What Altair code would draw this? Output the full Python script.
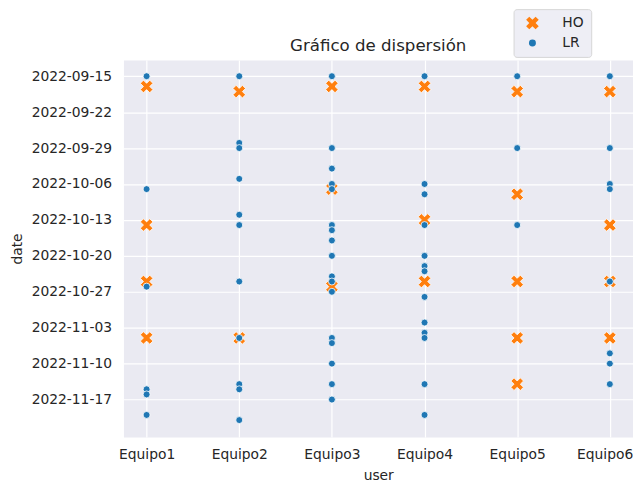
import altair as alt
import pandas as pd

USERS = ["Equipo1", "Equipo2", "Equipo3", "Equipo4", "Equipo5", "Equipo6"]
SERIES = ["HO", "LR"]
COLORS = ["#ff7f0e", "#1f77b4"]

# dates (month-day, year 2022)
HO_DATES = {
    "Equipo1": ["09-17", "10-14", "10-25", "11-05"],
    "Equipo2": ["09-18", "11-05"],
    "Equipo3": ["09-17", "10-07", "10-26"],
    "Equipo4": ["09-17", "10-13", "10-25"],
    "Equipo5": ["09-18", "10-08", "10-25", "11-05", "11-14"],
    "Equipo6": ["09-18", "10-14", "10-25", "11-05"],
}
LR_DATES = {
    "Equipo1": ["09-15", "10-07", "10-26", "11-15", "11-16", "11-20"],
    "Equipo2": ["09-15", "09-28", "09-29", "10-05", "10-12", "10-14", "10-25",
                "11-05", "11-14", "11-15", "11-21"],
    "Equipo3": ["09-15", "09-29", "10-03", "10-06", "10-07", "10-14", "10-15",
                "10-17", "10-20", "10-24", "10-25", "10-27", "11-05", "11-06",
                "11-10", "11-14", "11-17"],
    "Equipo4": ["09-15", "10-06", "10-08", "10-14", "10-20", "10-22", "10-23",
                "10-28", "11-02", "11-04", "11-05", "11-14", "11-20"],
    "Equipo5": ["09-15", "09-29", "10-14"],
    "Equipo6": ["09-15", "09-29", "10-06", "10-07", "10-25", "11-08", "11-10",
                "11-14"],
}
TICK_DATES = [(9, 15), (9, 22), (9, 29), (10, 6), (10, 13), (10, 20),
              (10, 27), (11, 3), (11, 10), (11, 17)]

rows = []
for serie, src in (("HO", HO_DATES), ("LR", LR_DATES)):
    for u in USERS:
        for d in src[u]:
            rows.append({"user": u, "date": f"2022-{d}T00:00:00", "serie": serie})
df = pd.DataFrame(rows)

MONTHS = {9: "Sep", 10: "Oct", 11: "Nov"}
tick_values = [alt.DateTime(year=2022, month=MONTHS[m], date=d) for m, d in TICK_DATES]
y_domain = [alt.DateTime(year=2022, month="Sep", date=11, hours=19, minutes=40),
            alt.DateTime(year=2022, month="Nov", date=24, hours=7, minutes=30)]

X_PATH = ("M-0.5,-1L0,-0.5L0.5,-1L1,-0.5L0.5,0L1,0.5L0.5,1L0,0.5"
          "L-0.5,1L-1,0.5L-0.5,0L-1,-0.5Z")

FONT = "DejaVu Sans"
TXT = "#262626"
LAST = f"datum.value === '{USERS[-1]}'"

leg = alt.Legend(title=None, orient="none", legendX=392, legendY=-51)

chart = alt.Chart(df).mark_point(
    filled=True, opacity=1, stroke="white", strokeWidth=0.8
).encode(
    x=alt.X("user:N", sort=USERS, title="user",
            scale=alt.Scale(padding=0.25),
            axis=alt.Axis(labelAngle=0, labelPadding=11, titlePadding=7,
                          labelAlign={"condition": {"test": LAST, "value": "right"},
                                      "value": "center"},
                          labelOffset={"condition": {"test": LAST, "value": 23},
                                       "value": 0})),
    y=alt.Y("date:T", title="date",
            scale=alt.Scale(domain=y_domain, reverse=True, nice=False),
            axis=alt.Axis(values=tick_values, format="%Y-%m-%d",
                          labelPadding=12, titlePadding=7)),
    color=alt.Color("serie:N", scale=alt.Scale(domain=SERIES, range=COLORS), legend=leg),
    shape=alt.Shape("serie:N", scale=alt.Scale(domain=SERIES, range=[X_PATH, "circle"]), legend=leg),
    size=alt.Size("serie:N", scale=alt.Scale(domain=SERIES, range=[160, 49]), legend=None),
).properties(
    width=512, height=379,
    autosize="none",
    padding={"left": 116, "top": 51, "right": 0, "bottom": 44},
    title=alt.TitleParams("Gráfico de dispersión", anchor="middle", frame="group",
                          baseline="alphabetic", offset=10, dy=69),
).configure_view(
    fill="#EAEAF2", strokeOpacity=0
).configure_axis(
    grid=True, gridColor="white", gridWidth=1.2, gridOpacity=1,
    domain=False, ticks=False,
    labelFont=FONT, labelFontSize=13.9, labelColor=TXT,
    titleFont=FONT, titleFontSize=13.9, titleFontWeight="normal", titleColor=TXT,
).configure_title(
    font=FONT, fontSize=16.7, fontWeight="normal", color=TXT
).configure_legend(
    labelFont=FONT, labelFontSize=13.9, labelColor=TXT,
    fillColor="#EEEEF5", strokeColor="#D6D6D6", cornerRadius=3,
    padding=7, rowPadding=5, symbolOffset=5, labelOffset=23,
    symbolSize=75, symbolStrokeWidth=0,
)

chart.save("out.html", embed_options={"renderer": "svg", "actions": False})
